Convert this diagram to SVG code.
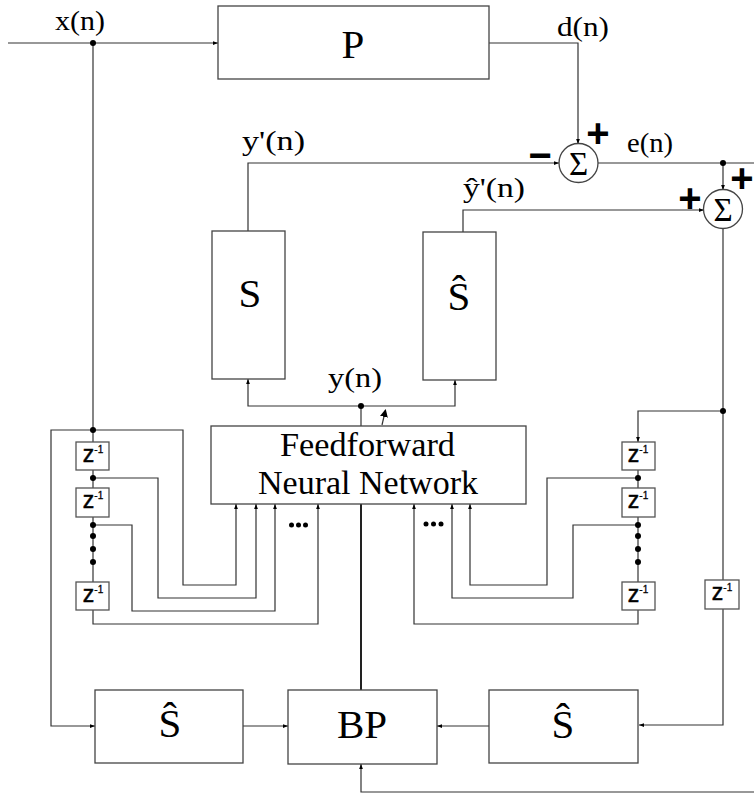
<svg xmlns="http://www.w3.org/2000/svg" width="754" height="794" viewBox="0 0 754 794">
<style>
.ln{fill:none;stroke:#333;stroke-width:1.2}
.thick{fill:none;stroke:#222;stroke-width:2}
.box{fill:#fff;stroke:#444;stroke-width:1.3}
.zb{fill:#fff;stroke:#555;stroke-width:1.3}
.sig{font-family:"Liberation Serif","Times New Roman",serif;font-size:28px;fill:#000}
.big{font-family:"Liberation Serif","Times New Roman",serif;font-size:41px;fill:#000;text-anchor:middle}
.fnn{font-family:"Liberation Serif","Times New Roman",serif;font-size:34px;fill:#000}
.sum{font-family:"Liberation Serif","Times New Roman",serif;font-size:33px;fill:#000;text-anchor:middle}
.sgn{font-family:"Liberation Sans",Arial,sans-serif;font-size:40px;font-weight:bold;fill:#000;text-anchor:middle}
.z{font-family:"Liberation Sans",Arial,sans-serif;font-size:23px;fill:#000;stroke:#000;stroke-width:0.5;text-anchor:middle}
.dot{fill:#000}
</style>
<defs>
<marker id="ah" viewBox="0 0 8 6" refX="8" refY="3" markerWidth="5" markerHeight="4" orient="auto" markerUnits="userSpaceOnUse">
<path d="M0,0 L8,3 L0,6 z" fill="#000"/>
</marker>
<marker id="ah2" viewBox="0 0 8 8" refX="7" refY="4" markerWidth="8" markerHeight="8" orient="auto" markerUnits="userSpaceOnUse">
<path d="M0,0 L8,4 L0,8 z" fill="#000"/>
</marker>
</defs>
<rect width="754" height="794" fill="#fff"/>

<g id="connectors">
<path class="ln" d="M8,43 H218" marker-end="url(#ah)"/>
<path class="ln" d="M93,43 V442"/>
<path class="ln" d="M93,430 H51 V726 H95" marker-end="url(#ah)"/>
<path class="ln" d="M93,430 H183 V585 H236 V504" marker-end="url(#ah)"/>
<path class="ln" d="M93,470 V488"/>
<path class="ln" d="M93,478 H158 V598 H256 V504" marker-end="url(#ah)"/>
<path class="ln" d="M93,517 V582"/>
<path class="ln" d="M93,525 H132 V611 H275 V504" marker-end="url(#ah)"/>
<path class="ln" d="M93,610 V624 H318 V504" marker-end="url(#ah)"/>
<path class="ln" d="M489,43 H578 V144" marker-end="url(#ah)"/>
<path class="ln" d="M248,231 V163 H559" marker-end="url(#ah)"/>
<path class="ln" d="M463,232 V210 H704" marker-end="url(#ah)"/>
<path class="ln" d="M598,163 H754"/>
<path class="ln" d="M723,163 V190" marker-end="url(#ah)"/>
<path class="ln" d="M723,229 V580"/>
<path class="ln" d="M723,411 H638 V442" marker-end="url(#ah)"/>
<path class="ln" d="M723,609 V725 H639" marker-end="url(#ah)"/>
<path class="ln" d="M638,470 V488"/>
<path class="ln" d="M638,478 H547 V585 H470 V504" marker-end="url(#ah)"/>
<path class="ln" d="M638,517 V582"/>
<path class="ln" d="M638,525 H573 V598 H452 V504" marker-end="url(#ah)"/>
<path class="ln" d="M638,610 V624 H414 V504" marker-end="url(#ah)"/>
<path class="ln" d="M361,426 V406"/>
<path class="ln" d="M361,406 H248 V379" marker-end="url(#ah)"/>
<path class="ln" d="M361,406 H455 V380" marker-end="url(#ah)"/>
<path class="ln" d="M382,425 L385.5,410" marker-end="url(#ah2)"/>
<path class="thick" d="M361,504 V690"/>
<path class="ln" d="M243,726 H288" marker-end="url(#ah)"/>
<path class="ln" d="M489,726 H437" marker-end="url(#ah)"/>
<path class="ln" d="M754,792 H361 V764" marker-end="url(#ah)"/>
<circle class="dot" cx="93" cy="43" r="3"/>
<circle class="dot" cx="93" cy="430" r="3"/>
<circle class="dot" cx="93" cy="478" r="3"/>
<circle class="dot" cx="93" cy="525" r="3"/>
<circle class="dot" cx="93" cy="536" r="3"/>
<circle class="dot" cx="93" cy="549" r="3"/>
<circle class="dot" cx="93" cy="562" r="3"/>
<circle class="dot" cx="638" cy="478" r="3"/>
<circle class="dot" cx="638" cy="525" r="3"/>
<circle class="dot" cx="638" cy="536" r="3"/>
<circle class="dot" cx="638" cy="549" r="3"/>
<circle class="dot" cx="638" cy="562" r="3"/>
<circle class="dot" cx="723" cy="163" r="3"/>
<circle class="dot" cx="723" cy="411" r="3"/>
<circle class="dot" cx="361" cy="406" r="3"/>
<circle class="dot" cx="291.5" cy="525" r="2.5"/>
<circle class="dot" cx="298.5" cy="525" r="2.5"/>
<circle class="dot" cx="305.5" cy="525" r="2.5"/>
<circle class="dot" cx="426" cy="524" r="2.5"/>
<circle class="dot" cx="433.5" cy="524" r="2.5"/>
<circle class="dot" cx="441" cy="524" r="2.5"/>
<text class="sig" x="55" y="30" textLength="50" lengthAdjust="spacingAndGlyphs">x(n)</text>
<text class="sig" x="557" y="36" textLength="52" lengthAdjust="spacingAndGlyphs">d(n)</text>
<text class="sig" x="242" y="150" textLength="63" lengthAdjust="spacingAndGlyphs">y'(n)</text>
<text class="sig" x="627" y="152" textLength="46" lengthAdjust="spacingAndGlyphs">e(n)</text>
<text class="sig" x="463" y="197" textLength="62" lengthAdjust="spacingAndGlyphs">ŷ'(n)</text>
<text class="sig" x="328" y="387" textLength="54" lengthAdjust="spacingAndGlyphs">y(n)</text>
</g>

<g id="P"><rect class="box" x="218" y="6" width="271" height="73"/><text class="big" x="353" y="58">P</text></g>
<g id="S"><rect class="box" x="212" y="231" width="73" height="148"/><text class="big" x="250" y="307">S</text></g>
<g id="Shat-model"><rect class="box" x="423" y="232" width="73" height="148"/><text class="big" x="459" y="310">Ŝ</text></g>
<g id="sum1"><circle class="box" cx="578.5" cy="163" r="19.5"/><text class="sum" x="578.5" y="175">Σ</text>
<text class="sgn" x="598" y="147">+</text><text class="sgn" x="540" y="169">−</text></g>
<g id="sum2"><circle class="box" cx="723" cy="209" r="19.5"/><text class="sum" x="723" y="221">Σ</text>
<text class="sgn" x="742" y="192">+</text><text class="sgn" x="690" y="212">+</text></g>
<g id="FNN"><rect class="box" x="211" y="426" width="315" height="78"/>
<text class="fnn" x="280" y="456" textLength="175" lengthAdjust="spacingAndGlyphs">Feedforward</text>
<text class="fnn" x="258" y="494" textLength="220" lengthAdjust="spacingAndGlyphs">Neural Network</text></g>
<g id="zL1"><rect class="zb" x="76" y="442" width="33" height="28"/><text class="z" x="93" y="462">z<tspan dy="-9" font-size="10" stroke-width="0.3">-1</tspan></text></g>
<g id="zL2"><rect class="zb" x="76" y="488" width="33" height="29"/><text class="z" x="93" y="508">z<tspan dy="-9" font-size="10" stroke-width="0.3">-1</tspan></text></g>
<g id="zL3"><rect class="zb" x="76" y="582" width="33" height="28"/><text class="z" x="93" y="602">z<tspan dy="-9" font-size="10" stroke-width="0.3">-1</tspan></text></g>
<g id="zR1"><rect class="zb" x="622" y="442" width="33" height="28"/><text class="z" x="638" y="462">z<tspan dy="-9" font-size="10" stroke-width="0.3">-1</tspan></text></g>
<g id="zR2"><rect class="zb" x="622" y="488" width="33" height="29"/><text class="z" x="638" y="508">z<tspan dy="-9" font-size="10" stroke-width="0.3">-1</tspan></text></g>
<g id="zR3"><rect class="zb" x="622" y="582" width="33" height="28"/><text class="z" x="638" y="602">z<tspan dy="-9" font-size="10" stroke-width="0.3">-1</tspan></text></g>
<g id="zE"><rect class="zb" x="705" y="580" width="34" height="29"/><text class="z" x="722" y="600">z<tspan dy="-9" font-size="10" stroke-width="0.3">-1</tspan></text></g>
<g id="Shat-left"><rect class="box" x="95" y="690" width="148" height="73"/><text class="big" x="170" y="737">Ŝ</text></g>
<g id="BP"><rect class="box" x="288" y="690" width="149" height="74"/><text class="big" x="362" y="738">BP</text></g>
<g id="Shat-right"><rect class="box" x="489" y="690" width="149" height="73"/><text class="big" x="563" y="738">Ŝ</text></g>
</svg>
